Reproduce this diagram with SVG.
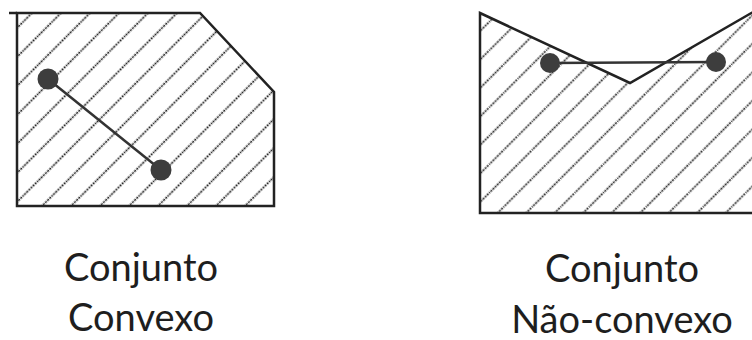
<svg xmlns="http://www.w3.org/2000/svg" width="752" height="340" viewBox="0 0 752 340">
<style>
.shape{stroke:#222;stroke-width:2.5;stroke-linejoin:miter}
.seg{stroke:#333;stroke-width:2.5}
.dot{fill:#3d3d3d}
.lbl{font-family:Lato,"Open Sans",sans-serif;font-size:38px;fill:#1e1e1e;text-anchor:middle}
</style>
<defs>
<pattern id="hatchL" width="20.506" height="20.506" patternUnits="userSpaceOnUse" patternTransform="translate(1.5 0) rotate(45)">
<line x1="10.25" y1="-1" x2="10.25" y2="22" stroke="#2a2a2a" stroke-width="1.7" stroke-dasharray="2 1"/>
</pattern>
<pattern id="hatchR" width="20.15" height="20.15" patternUnits="userSpaceOnUse" patternTransform="translate(12.5 0) rotate(45)">
<line x1="10.07" y1="-1" x2="10.07" y2="22" stroke="#2a2a2a" stroke-width="1.7" stroke-dasharray="2 1"/>
</pattern>
</defs>
<rect width="752" height="340" fill="#fff"/>
<g id="convex">
<path class="shape" fill="url(#hatchL)" d="M17,13 H200 L274,92 V206 H17 Z"/>
<line class="shape" x1="9" y1="13" x2="17" y2="13"/>
</g>
<g id="nonconvex">
<path class="shape" fill="url(#hatchR)" d="M480,13 L630,83 L760,8 V213 H480 Z"/>
</g>
<g id="connectors">
<line class="seg" x1="48" y1="79" x2="161" y2="170"/>
<line class="seg" x1="550" y1="63" x2="716" y2="62"/>
</g>
<g id="dots">
<circle class="dot" cx="48" cy="79" r="10.5"/>
<circle class="dot" cx="161" cy="170" r="10.5"/>
<circle class="dot" cx="550" cy="63" r="10"/>
<circle class="dot" cx="716" cy="62" r="10"/>
</g>
<g id="label-convex">
<text class="lbl" x="141" y="281">Conjunto</text>
<text class="lbl" x="141" y="331">Convexo</text>
</g>
<g id="label-nonconvex">
<text class="lbl" x="622" y="282">Conjunto</text>
<text class="lbl" x="622" y="333">Não-convexo</text>
</g>
</svg>
